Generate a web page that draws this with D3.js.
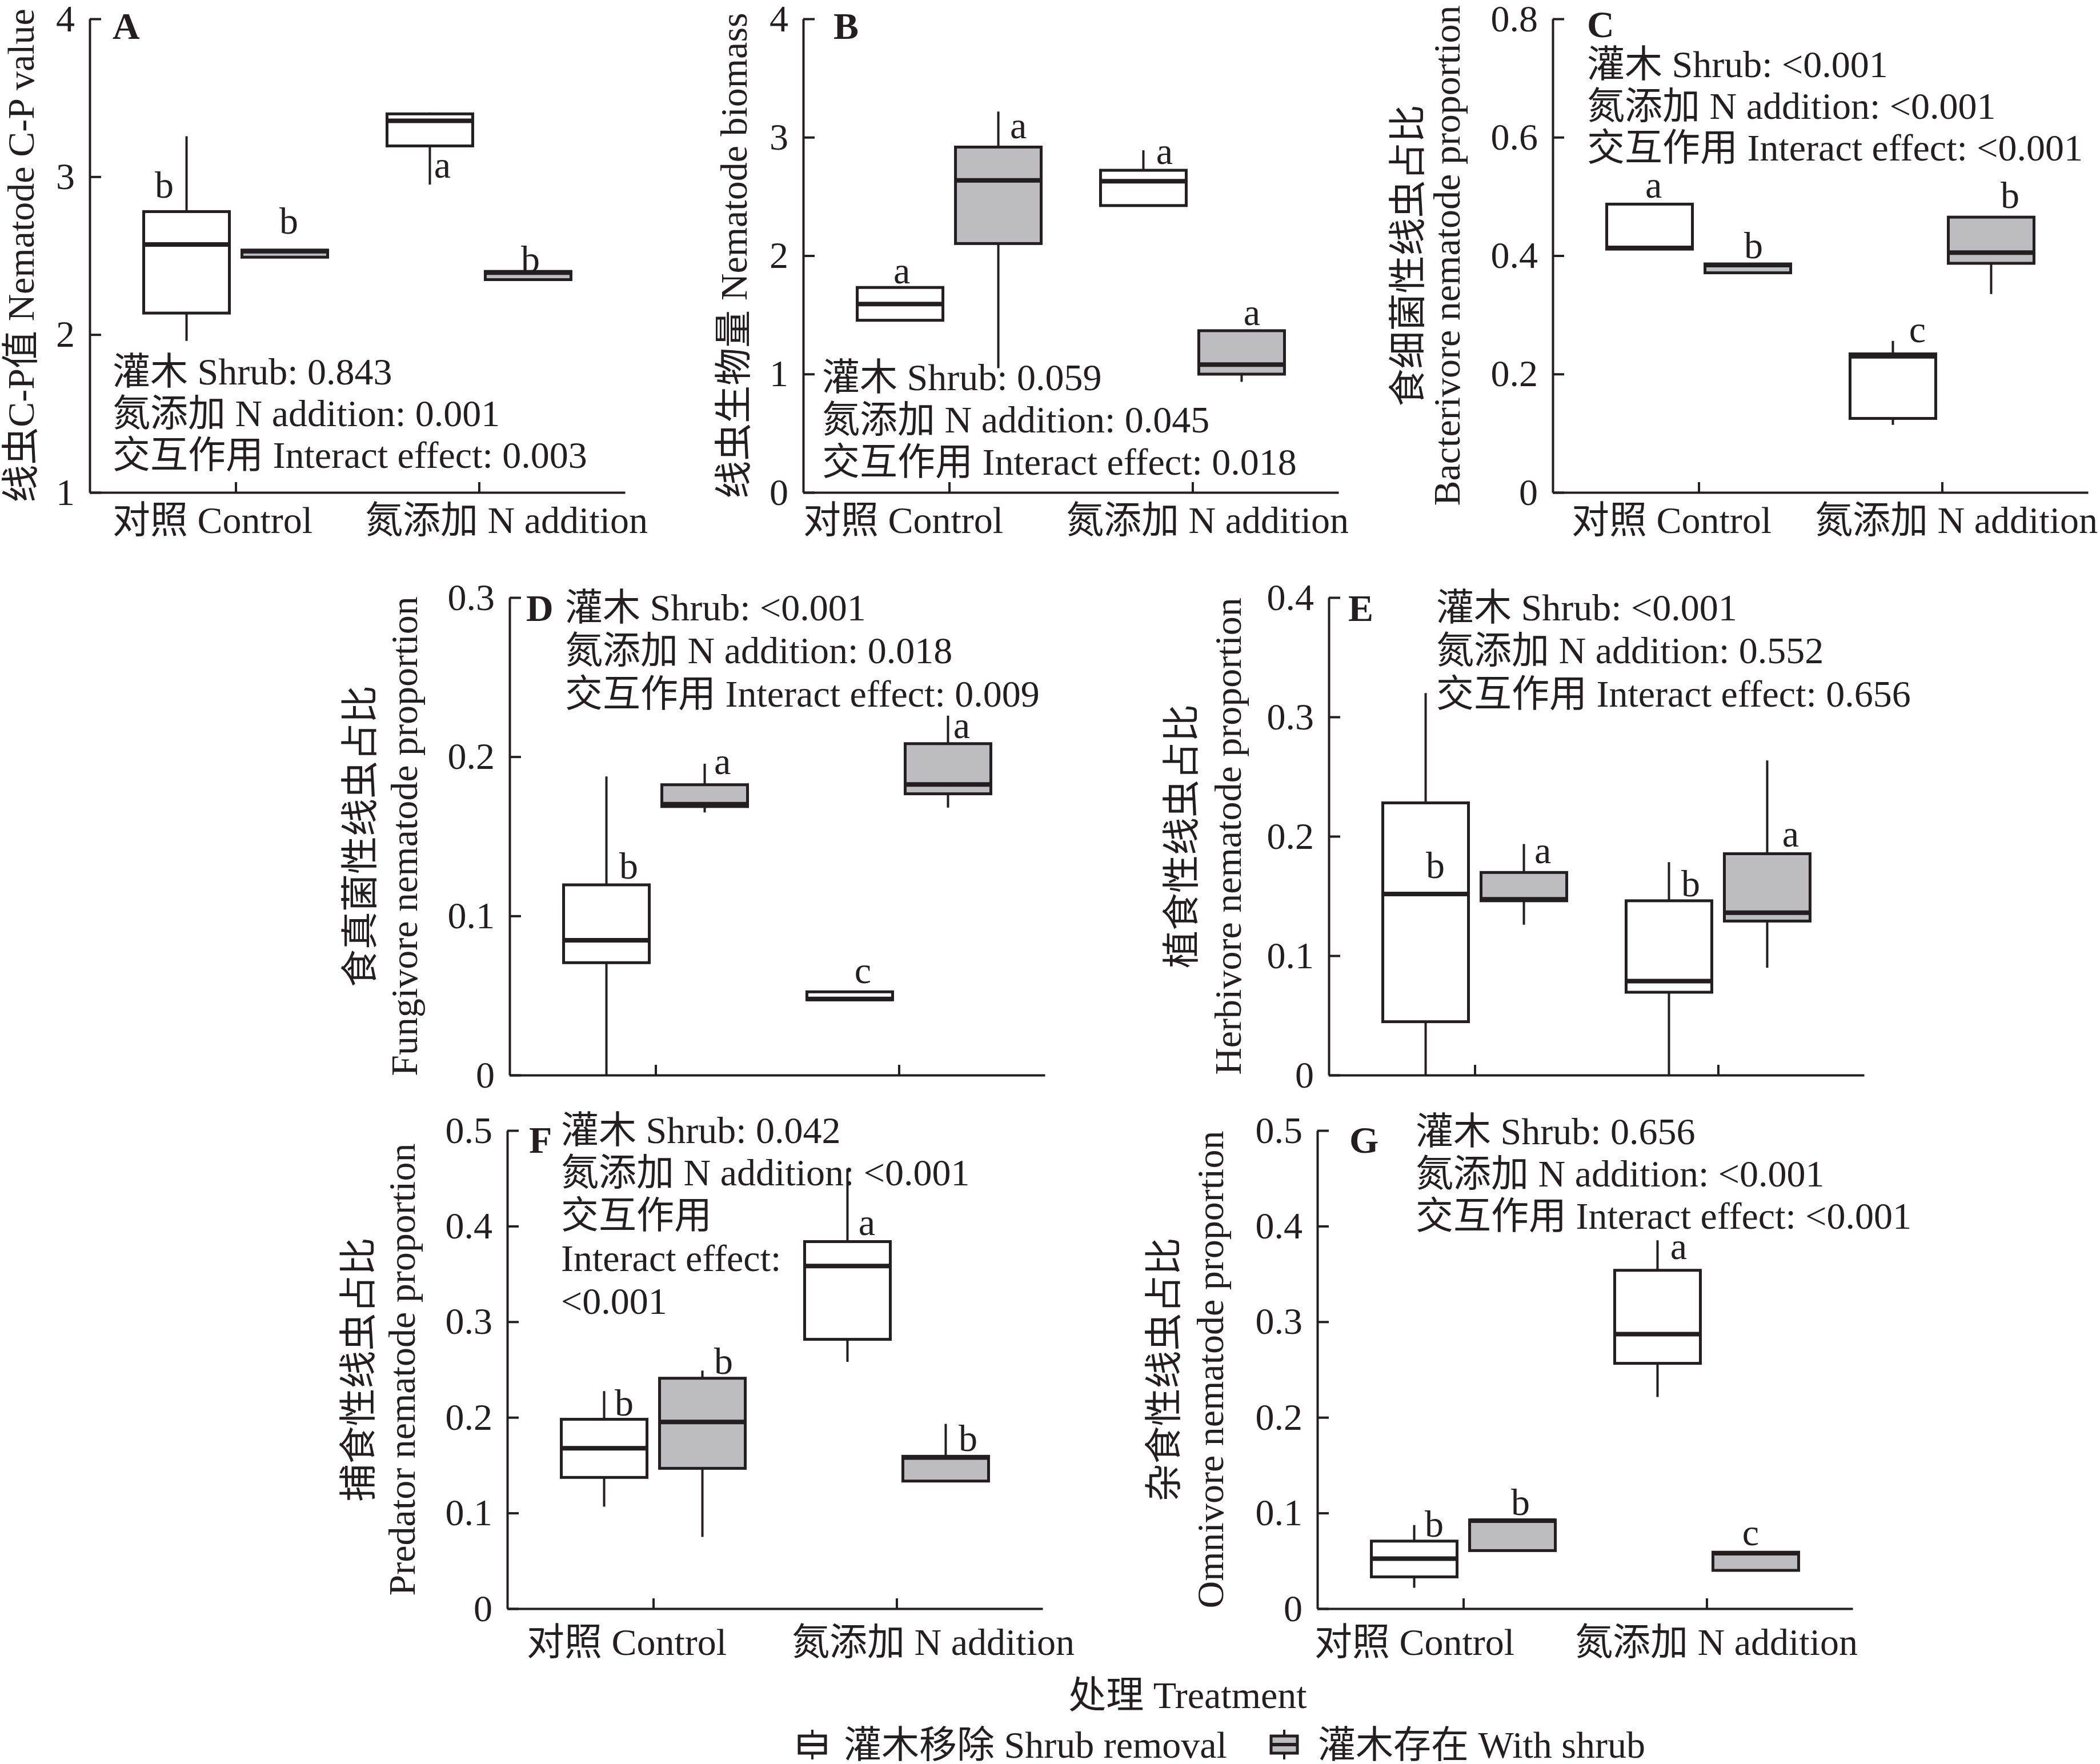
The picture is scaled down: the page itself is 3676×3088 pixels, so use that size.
<!DOCTYPE html>
<html lang="zh">
<head>
<meta charset="utf-8">
<title>Nematode boxplots</title>
<script src="https://d3js.org/d3.v7.min.js"></script>
<style>
  body { margin: 0; background: #fff; }
  text { font-family: "Liberation Serif", "Noto Sans CJK SC", serif; fill: #231f20; }
</style>
</head>
<body>
<svg id="chart" width="3676" height="3088"></svg>
<script>
// ---- data ----
const groups = ["对照 Control", "氮添加 N addition"];
const shrubs = ["灌木移除 Shrub removal", "灌木存在 With shrub"];

// each box: [whisker low, q1, median, q3, whisker high]
// order: control-removal, control-shrub, N-removal, N-shrub
const cpValue = [[1.96, 2.136, 2.571, 2.779, 3.256], [2.49, 2.49, 2.528, 2.535, 2.535],
                 [2.95, 3.195, 3.354, 3.398, 3.407], [2.348, 2.348, 2.392, 2.40, 2.40]];
const biomass = [[1.454, 1.454, 1.591, 1.731, 1.731], [1.05, 2.102, 2.636, 2.917, 3.217],
                 [2.423, 2.423, 2.628, 2.721, 2.89], [0.934, 0.999, 1.08, 1.366, 1.366]];
const bacterivore = [[0.411, 0.411, 0.413, 0.487, 0.487], [0.371, 0.371, 0.384, 0.386, 0.386],
                     [0.114, 0.125, 0.230, 0.234, 0.256], [0.335, 0.387, 0.405, 0.465, 0.465]];
const fungivore = [[0, 0.0706, 0.0847, 0.1195, 0.1876], [0.165, 0.1687, 0.1702, 0.1824, 0.1956],
                   [0.0473, 0.0473, 0.0478, 0.0523, 0.0523], [0.168, 0.1767, 0.1826, 0.2082, 0.2258]];
const herbivore = [[0, 0.0447, 0.1517, 0.228, 0.32], [0.126, 0.146, 0.1472, 0.1697, 0.1935],
                   [0, 0.0694, 0.0787, 0.146, 0.1784], [0.0899, 0.129, 0.136, 0.1854, 0.2635]];
const predator = [[0.1067, 0.1372, 0.1677, 0.198, 0.2275], [0.075, 0.1467, 0.1952, 0.2409, 0.2489],
                  [0.258, 0.2816, 0.3582, 0.3838, 0.46], [0.1334, 0.1334, 0.158, 0.1593, 0.1932]];
const omnivore = [[0.0218, 0.0332, 0.0523, 0.0706, 0.0874], [0.0607, 0.0607, 0.092, 0.0927, 0.0927],
                  [0.2214, 0.2565, 0.287, 0.3538, 0.3851], [0.040, 0.040, 0.058, 0.059, 0.059]];

const cpTicks = [1, 2, 3, 4];
const biomassTicks = [0, 1, 2, 3, 4];
const bacterivoreTicks = [0, 0.2, 0.4, 0.6, 0.8];
const fungivoreTicks = [0, 0.1, 0.2, 0.3];
const herbivoreTicks = [0, 0.1, 0.2, 0.3, 0.4];
const predatorTicks = [0, 0.1, 0.2, 0.3, 0.4, 0.5];
const omnivoreTicks = [0, 0.1, 0.2, 0.3, 0.4, 0.5];

const cpLetters = ["b", "b", "a", "b"];
const biomassLetters = ["a", "a", "a", "a"];
const bacterivoreLetters = ["a", "b", "c", "b"];
const fungivoreLetters = ["b", "a", "c", "a"];
const herbivoreLetters = ["b", "a", "b", "a"];
const predatorLetters = ["b", "b", "a", "b"];
const omnivoreLetters = ["b", "b", "a", "c"];

const cpStats = ["灌木 Shrub: 0.843", "氮添加 N addition: 0.001", "交互作用 Interact effect: 0.003"];
const biomassStats = ["灌木 Shrub: 0.059", "氮添加 N addition: 0.045", "交互作用 Interact effect: 0.018"];
const bacterivoreStats = ["灌木 Shrub: <0.001", "氮添加 N addition: <0.001", "交互作用 Interact effect: <0.001"];
const fungivoreStats = ["灌木 Shrub: <0.001", "氮添加 N addition: 0.018", "交互作用 Interact effect: 0.009"];
const herbivoreStats = ["灌木 Shrub: <0.001", "氮添加 N addition: 0.552", "交互作用 Interact effect: 0.656"];
const predatorStats = ["灌木 Shrub: 0.042", "氮添加 N addition: <0.001", "交互作用", "Interact effect:", "<0.001"];
const omnivoreStats = ["灌木 Shrub: 0.656", "氮添加 N addition: <0.001", "交互作用 Interact effect: <0.001"];

// ---- layout ----
const FS = 66, W = 937, BOXW = 150, OFF = 86;
const ink = "#231f20", greyFill = "#bdbcbf";
const fills = ["#ffffff", greyFill];

const panels = [
  { tag: "A", data: cpValue, ticks: cpTicks, letters: cpLetters, stats: cpStats,
    x0: 157, y0: 33, y1: 862, tagAt: [197, 45], statAt: [197, 650], statStep: 73,
    titles: [["线虫C-P值 Nematode C-P value", 36]], xlab: [40, 482], xlabDy: 48,
    letterAt: [[2.95, -39], [2.72, 7], [3.048, 22], [2.479, 4]] },
  { tag: "B", data: biomass, ticks: biomassTicks, letters: biomassLetters, stats: biomassStats,
    x0: 1406, y0: 33, y1: 862, tagAt: [1459, 45], statAt: [1439, 660], statStep: 74,
    titles: [["线虫生物量 Nematode biomass", 1284]], xlab: [0, 460], xlabDy: 48,
    letterAt: [[1.84, 3], [3.066, 35], [2.847, 37], [1.489, 18]] },
  { tag: "C", data: bacterivore, ticks: bacterivoreTicks, letters: bacterivoreLetters, stats: bacterivoreStats,
    x0: 2718, y0: 33, y1: 862, tagAt: [2778, 42], statAt: [2778, 112], statStep: 73,
    titles: [["食细菌性线虫占比", 2464], ["Bacterivore nematode proportion", 2532]], xlab: [33, 459], xlabDy: 48,
    letterAt: [[0.513, 7], [0.417, 10], [0.268, 43], [0.502, 33]] },
  { tag: "D", data: fungivore, ticks: fungivoreTicks, letters: fungivoreLetters, stats: fungivoreStats,
    x0: 892, y0: 1046, y1: 1882, tagAt: [921, 1064], statAt: [989, 1063], statStep: 75.5,
    titles: [["食真菌性线虫占比", 630], ["Fungivore nematode proportion", 707]], xlab: null,
    letterAt: [[0.1315, 39], [0.1945, 31], [0.0632, 23], [0.217, 24]] },
  { tag: "E", data: herbivore, ticks: herbivoreTicks, letters: herbivoreLetters, stats: herbivoreStats,
    x0: 2326, y0: 1046, y1: 1882, tagAt: [2360, 1064], statAt: [2514, 1063], statStep: 75.5,
    titles: [["植食性线虫占比", 2068], ["Herbivore nematode proportion", 2149]], xlab: null,
    letterAt: [[0.1756, 17], [0.1846, 33], [0.1607, 38], [0.1986, 41]] },
  { tag: "F", data: predator, ticks: predatorTicks, letters: predatorLetters, stats: predatorStats,
    x0: 888, y0: 1979, y1: 2816, tagAt: [926, 1995], statAt: [982, 1978], statStep: 74.75,
    titles: [["捕食性线虫占比", 627], ["Predator nematode proportion", 703]], xlab: [34, 498], xlabDy: 58,
    letterAt: [[0.2153, 35], [0.2591, 37], [0.4, 34], [0.178, 39]] },
  { tag: "G", data: omnivore, ticks: omnivoreTicks, letters: omnivoreLetters, stats: omnivoreStats,
    x0: 2306, y0: 1979, y1: 2816, tagAt: [2362, 1995], statAt: [2478, 1980], statStep: 74,
    titles: [["杂食性线虫占比", 2037], ["Omnivore nematode proportion", 2118]], xlab: [-5, 451], xlabDy: 58,
    letterAt: [[0.0886, 35], [0.1115, 14], [0.3748, 37], [0.0752, -9]] }
];

const svg = d3.select("#chart");

function drawPanel(p) {
  const g = svg.append("g");
  const x = d3.scalePoint().domain(groups).range([p.x0, p.x0 + W]).padding(0.6);
  const y = d3.scaleLinear().domain([p.ticks[0], p.ticks[p.ticks.length - 1]]).range([p.y1, p.y0]);

  // y axis, ticks pointing inward
  const ya = g.append("g").attr("transform", `translate(${p.x0},0)`)
    .call(d3.axisLeft(y).tickValues(p.ticks).tickFormat(d => String(d))
      .tickSizeInner(-20).tickSizeOuter(0).tickPadding(26));
  ya.selectAll("path,line").attr("stroke", ink).attr("stroke-width", 4);
  ya.selectAll("text").attr("font-size", FS).attr("font-family", null).attr("fill", ink);

  // x axis
  const xa = g.append("g").attr("transform", `translate(0,${p.y1})`)
    .call(d3.axisBottom(x).tickSizeInner(-18).tickSizeOuter(0).tickFormat(""));
  xa.selectAll("path,line").attr("stroke", ink).attr("stroke-width", 4);

  if (p.xlab) {
    g.selectAll(".xlab").data(groups).join("text")
      .attr("x", (d, i) => p.x0 + p.xlab[i])
      .attr("y", p.y1 + p.xlabDy)
      .attr("dominant-baseline", "central")
      .attr("font-size", FS)
      .text(d => d);
  }

  // axis titles, rotated
  p.titles.forEach(([t, cx]) => {
    g.append("text")
      .attr("transform", `translate(${cx},${(p.y0 + p.y1) / 2}) rotate(-90)`)
      .attr("text-anchor", "middle")
      .attr("dominant-baseline", "central")
      .attr("font-size", FS)
      .text(t);
  });

  // panel tag
  g.append("text").attr("x", p.tagAt[0]).attr("y", p.tagAt[1])
    .attr("dominant-baseline", "central").attr("font-size", FS).attr("font-weight", "bold")
    .text(p.tag);

  // test statistics
  g.selectAll(".stat").data(p.stats).join("text")
    .attr("x", p.statAt[0])
    .attr("y", (d, i) => p.statAt[1] + i * p.statStep)
    .attr("dominant-baseline", "central")
    .attr("font-size", FS)
    .text(d => d);

  // boxes
  const cx = i => x(groups[i < 2 ? 0 : 1]) + (i % 2 ? OFF : -OFF);
  const boxes = g.selectAll(".box").data(p.data).join("g");
  boxes.append("line")
    .attr("x1", (d, i) => cx(i)).attr("x2", (d, i) => cx(i))
    .attr("y1", d => y(d[0])).attr("y2", d => y(d[4]))
    .attr("stroke", ink).attr("stroke-width", 4);
  boxes.append("rect")
    .attr("x", (d, i) => cx(i) - BOXW / 2).attr("width", BOXW)
    .attr("y", d => y(d[3])).attr("height", d => y(d[1]) - y(d[3]))
    .attr("fill", (d, i) => fills[i % 2])
    .attr("stroke", ink).attr("stroke-width", 5);
  boxes.append("line")
    .attr("x1", (d, i) => cx(i) - BOXW / 2).attr("x2", (d, i) => cx(i) + BOXW / 2)
    .attr("y1", d => y(d[2])).attr("y2", d => y(d[2]))
    .attr("stroke", ink).attr("stroke-width", 8);

  // significance letters
  g.selectAll(".let").data(p.letters).join("text")
    .attr("x", (d, i) => cx(i) + p.letterAt[i][1])
    .attr("y", (d, i) => y(p.letterAt[i][0]) + (d === "b" ? 0.34 : 0.23) * FS)
    .attr("text-anchor", "middle")
    .attr("font-size", FS)
    .text(d => d);
}

panels.forEach(drawPanel);

// shared x title
svg.append("text").attr("x", 2079).attr("y", 2967)
  .attr("text-anchor", "middle").attr("dominant-baseline", "central")
  .attr("font-size", FS).text("处理 Treatment");

// legend
const legendAt = [[1422, 1477], [2248, 2307]];
const ly = 3054;
const lg = svg.selectAll(".leg").data(shrubs).join("g");
lg.append("line")
  .attr("x1", (d, i) => legendAt[i][0]).attr("x2", (d, i) => legendAt[i][0])
  .attr("y1", ly - 26).attr("y2", ly + 26)
  .attr("stroke", ink).attr("stroke-width", 4);
lg.append("rect")
  .attr("x", (d, i) => legendAt[i][0] - 23).attr("width", 46)
  .attr("y", ly - 15).attr("height", 30)
  .attr("fill", (d, i) => fills[i]).attr("stroke", ink).attr("stroke-width", 5);
lg.append("line")
  .attr("x1", (d, i) => legendAt[i][0] - 23).attr("x2", (d, i) => legendAt[i][0] + 23)
  .attr("y1", ly).attr("y2", ly)
  .attr("stroke", ink).attr("stroke-width", 6);
lg.append("text")
  .attr("x", (d, i) => legendAt[i][1]).attr("y", ly)
  .attr("dominant-baseline", "central").attr("font-size", FS)
  .text(d => d);
</script>
</body>
</html>
